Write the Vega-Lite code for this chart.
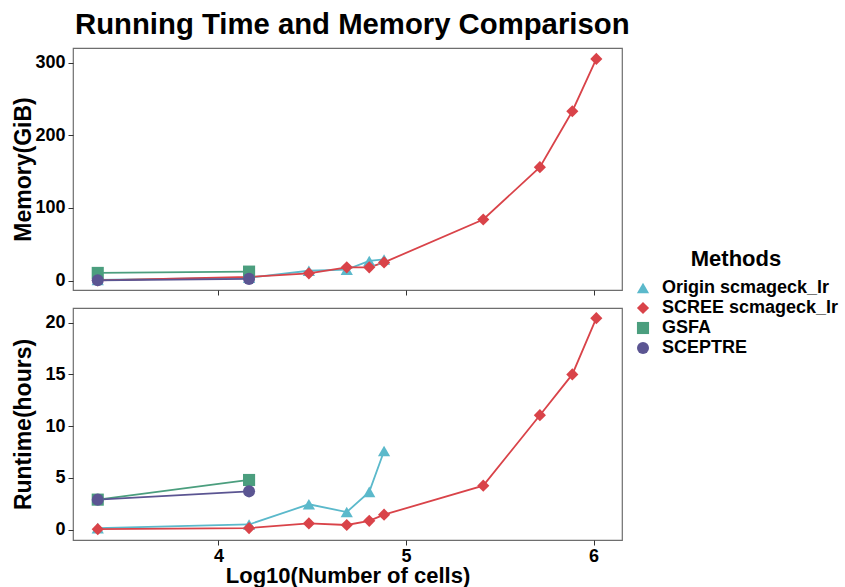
{
  "$schema": "https://vega.github.io/schema/vega-lite/v6.json",
  "padding": {"left": 11, "top": 11, "right": 5, "bottom": 0},
  "title": {"text": "Running Time and Memory Comparison", "fontSize": 29.3, "font": "Liberation Sans", "fontWeight": "bold", "color": "black", "anchor": "start", "frame": "group", "offset": 7, "dx": 2},
  "data": {"values": [
    {"method": "Origin scmageck_lr", "x": 3.356, "memory": 1.0, "runtime": 0.15},
    {"method": "Origin scmageck_lr", "x": 4.163, "memory": 4.0, "runtime": 0.5},
    {"method": "Origin scmageck_lr", "x": 4.482, "memory": 13.5, "runtime": 2.45},
    {"method": "Origin scmageck_lr", "x": 4.684, "memory": 15.0, "runtime": 1.7},
    {"method": "Origin scmageck_lr", "x": 4.804, "memory": 27.0, "runtime": 3.65},
    {"method": "Origin scmageck_lr", "x": 4.883, "memory": 29.0, "runtime": 7.6},
    {"method": "SCREE scmageck_lr", "x": 3.356, "memory": 0.3, "runtime": 0.05},
    {"method": "SCREE scmageck_lr", "x": 4.163, "memory": 5.0, "runtime": 0.15},
    {"method": "SCREE scmageck_lr", "x": 4.482, "memory": 10.0, "runtime": 0.6},
    {"method": "SCREE scmageck_lr", "x": 4.684, "memory": 18.2, "runtime": 0.45},
    {"method": "SCREE scmageck_lr", "x": 4.804, "memory": 18.2, "runtime": 0.85},
    {"method": "SCREE scmageck_lr", "x": 4.883, "memory": 25.0, "runtime": 1.45},
    {"method": "SCREE scmageck_lr", "x": 5.412, "memory": 84.0, "runtime": 4.25},
    {"method": "SCREE scmageck_lr", "x": 5.714, "memory": 156.0, "runtime": 11.06},
    {"method": "SCREE scmageck_lr", "x": 5.887, "memory": 233.0, "runtime": 15.0},
    {"method": "SCREE scmageck_lr", "x": 6.015, "memory": 305.0, "runtime": 20.44},
    {"method": "GSFA", "x": 3.356, "memory": 10.5, "runtime": 2.9},
    {"method": "GSFA", "x": 4.163, "memory": 12.3, "runtime": 4.8},
    {"method": "SCEPTRE", "x": 3.356, "memory": 0.3, "runtime": 2.9},
    {"method": "SCEPTRE", "x": 4.163, "memory": 2.3, "runtime": 3.7}
  ]},
  "spacing": 10,
  "vconcat": [
    {
      "width": 549,
      "height": 242,
      "encoding": {
        "x": {"field": "x", "type": "quantitative", "scale": {"domain": [3.224, 6.152], "nice": false, "zero": false},
              "axis": {"values": [4, 5, 6], "labels": false, "title": null}},
        "y": {"field": "memory", "type": "quantitative", "scale": {"domain": [-13, 320], "nice": false, "zero": false},
              "axis": {"values": [0, 100, 200, 300], "title": "Memory(GiB)", "titleX": -38}},
        "color": {"field": "method", "type": "nominal",
                  "scale": {"domain": ["Origin scmageck_lr", "SCREE scmageck_lr", "GSFA", "SCEPTRE"], "range": ["#5bb9cb", "#d94349", "#4b9e7e", "#5b5592"]},
                  "legend": {"title": "Methods", "orient": "none", "legendX": 561, "legendY": 201}}
      },
      "layer": [
        {"mark": {"type": "line", "strokeWidth": 1.8}},
        {"mark": {"type": "point", "filled": true, "opacity": 1},
         "encoding": {
           "shape": {"field": "method", "type": "nominal", "scale": {"domain": ["Origin scmageck_lr", "SCREE scmageck_lr", "GSFA", "SCEPTRE"], "range": ["triangle-up", "diamond", "square", "circle"]},
                     "legend": {"title": "Methods", "orient": "none", "legendX": 561, "legendY": 201}},
           "size": {"field": "method", "type": "nominal", "scale": {"domain": ["Origin scmageck_lr", "SCREE scmageck_lr", "GSFA", "SCEPTRE"], "range": [150, 145, 85, 95]},
                    "legend": {"title": "Methods", "orient": "none", "legendX": 561, "legendY": 201}}
         }}
      ]
    },
    {
      "width": 549,
      "height": 232,
      "encoding": {
        "x": {"field": "x", "type": "quantitative", "scale": {"domain": [3.224, 6.152], "nice": false, "zero": false},
              "axis": {"values": [4, 5, 6], "title": "Log10(Number of cells)", "format": "d"}},
        "y": {"field": "runtime", "type": "quantitative", "scale": {"domain": [-1, 21.42], "nice": false, "zero": false},
              "axis": {"values": [0, 5, 10, 15, 20], "title": "Runtime(hours)", "titleX": -38}},
        "color": {"field": "method", "type": "nominal",
                  "scale": {"domain": ["Origin scmageck_lr", "SCREE scmageck_lr", "GSFA", "SCEPTRE"], "range": ["#5bb9cb", "#d94349", "#4b9e7e", "#5b5592"]},
                  "legend": {"title": "Methods", "orient": "none", "legendX": 561, "legendY": 201}}
      },
      "layer": [
        {"mark": {"type": "line", "strokeWidth": 1.8}},
        {"mark": {"type": "point", "filled": true, "opacity": 1},
         "encoding": {
           "shape": {"field": "method", "type": "nominal", "scale": {"domain": ["Origin scmageck_lr", "SCREE scmageck_lr", "GSFA", "SCEPTRE"], "range": ["triangle-up", "diamond", "square", "circle"]},
                     "legend": {"title": "Methods", "orient": "none", "legendX": 561, "legendY": 201}},
           "size": {"field": "method", "type": "nominal", "scale": {"domain": ["Origin scmageck_lr", "SCREE scmageck_lr", "GSFA", "SCEPTRE"], "range": [150, 145, 85, 95]},
                    "legend": {"title": "Methods", "orient": "none", "legendX": 561, "legendY": 201}}
         }}
      ]
    }
  ],
  "config": {
    "font": "Liberation Sans",
    "view": {"stroke": "#6e6e6e", "strokeWidth": 1.2},
    "axis": {"grid": false, "domain": false, "tickColor": "#333333", "tickSize": 5, "tickWidth": 1,
             "labelFont": "Liberation Sans", "labelFontWeight": "bold", "labelFontSize": 18, "labelColor": "black", "labelPadding": 3,
             "titleFont": "Liberation Sans", "titleFontSize": 23, "titleFontWeight": "bold", "titleColor": "black", "titlePadding": 0},
    "axisX": {"titleFontSize": 22, "labelPadding": 2},
    "legend": {"padding": 0,
               "titleFont": "Liberation Sans", "titleFontSize": 22, "titleFontWeight": "bold", "titleColor": "black", "titleAnchor": "middle", "titlePadding": 8,
               "labelFont": "Liberation Sans", "labelFontSize": 18, "labelFontWeight": "bold", "labelColor": "black", "labelOffset": 10, "labelLimit": 400,
               "symbolStrokeWidth": 0, "rowPadding": 2}
  }
}
